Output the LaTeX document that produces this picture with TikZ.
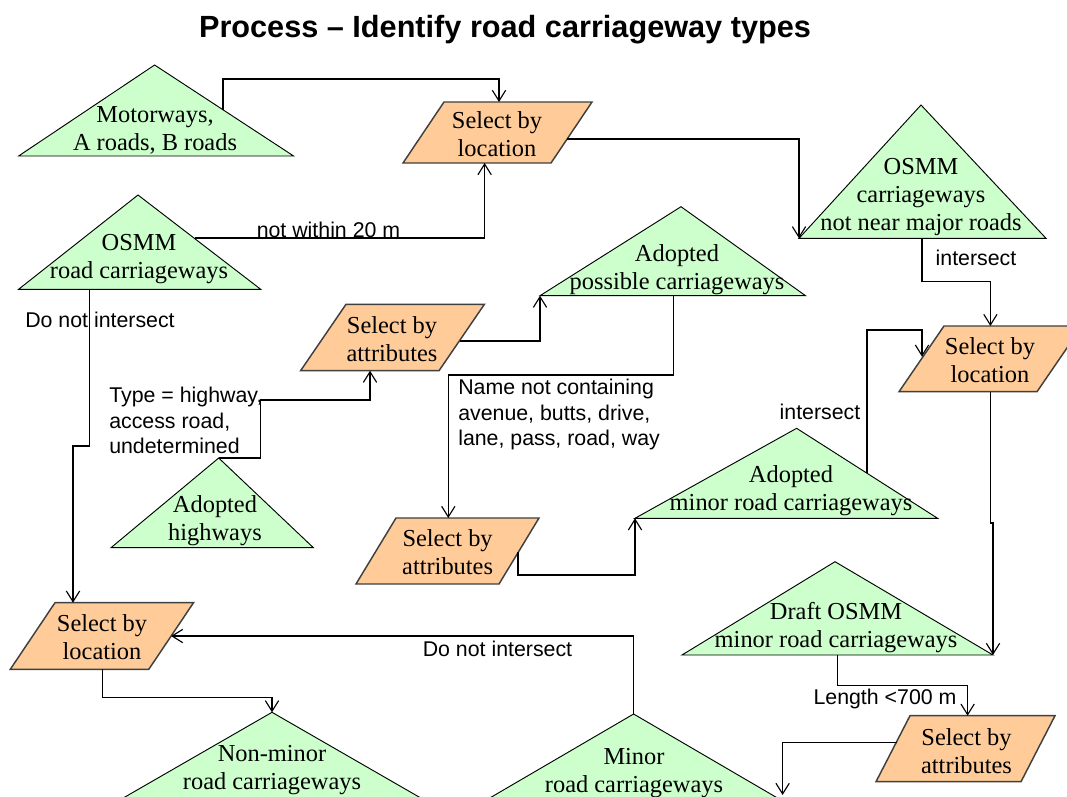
\documentclass[tikz,border=0pt]{standalone}
\usepackage{fontspec}
\setmainfont{Liberation Serif}
\setsansfont{Liberation Sans}
\usetikzlibrary{arrows.meta}

\definecolor{datafill}{HTML}{CCFFCC}
\definecolor{opfill}{HTML}{FFCC99}
\definecolor{opline}{HTML}{404040}

% Data set drawn as a triangle: name, apex x, apex y, left x, right x, base y
\newcommand{\roadtri}[6]{%
  \coordinate (#1-a) at (#2,#3);
  \coordinate (#1-l) at (#4,#6);
  \coordinate (#1-r) at (#5,#6);
  \draw[datashape] (#1-a) -- (#1-r) -- (#1-l) -- cycle;}

% Operation drawn as a parallelogram: name, bottom-left x, bottom y, width, height, slant
\newcommand{\opbox}[6]{%
  \coordinate (#1-bl) at (#2,#3);
  \coordinate (#1-br) at ({#2+#4},#3);
  \coordinate (#1-tr) at ({#2+#4+#6},{#3-#5});
  \coordinate (#1-tl) at ({#2+#6},{#3-#5});
  \draw[opshape] (#1-bl) -- (#1-br) -- (#1-tr) -- (#1-tl) -- cycle;}

\tikzset{
  datashape/.style={fill=datafill, draw=black, line width=0.7pt},
  opshape/.style={fill=opfill, draw=opline, line width=1.1pt, line join=miter},
  boxtext/.style={font=\fontsize{18.3pt}{21pt}\selectfont, align=center, inner sep=0pt},
  flowlabel/.style={font=\sffamily\fontsize{16pt}{19pt}\selectfont, inner sep=0pt},
  flow/.style={draw=black, line width=0.95pt, -{Straight Barb[length=8pt,width=10pt,line width=0.85pt]}},
}

\begin{document}
\begin{tikzpicture}[x=0.75pt, y=-0.75pt]
\useasboundingbox (0,0) rectangle (1067,796);
\fill[white] (0,0) rectangle (1067,796);
\clip (0,0) rectangle (1067,796);

% title
\node[font=\sffamily\bfseries\fontsize{23pt}{27pt}\selectfont, inner sep=0pt] (title) at (505,30) {Process -- Identify road carriageway types};

% data sets
\roadtri{mw}{154.6}{65}{18.6}{293.6}{156}
\roadtri{or}{138}{195}{18.6}{260.7}{289.3}
\roadtri{oc}{921}{105}{799}{1046}{238.3}
\roadtri{ap}{681}{206.7}{540}{805.5}{295.7}
\roadtri{ah}{218.7}{458}{111}{313.4}{547.7}
\roadtri{am}{796.6}{428.3}{635}{937.6}{518.3}
\roadtri{dr}{835}{561.7}{682}{993}{655}
\roadtri{nm}{272}{712.3}{118}{426}{801}
\roadtri{mi}{633.6}{714}{484.6}{782.6}{801}

\node[boxtext] (mwtext) at (155,130) {Motorways,\\A roads, B roads};
\node[boxtext] (ortext) at (139,259) {OSMM\\road carriageways};
\node[boxtext] (octext) at (921,197.5) {OSMM\\carriageways\\not near major roads};
\node[boxtext] (aptext) at (677,269.5) {Adopted\\possible carriageways};
\node[boxtext] (ahtext) at (215,521) {Adopted\\highways};
\node[boxtext] (amtext) at (791,491) {Adopted\\minor road carriageways};
\node[boxtext] (drtext) at (836,627.5) {Draft OSMM\\minor road carriageways};
\node[boxtext] (nmtext) at (272,770.5) {Non-minor\\road carriageways};
\node[boxtext] (mitext) at (634,773.5) {Minor\\road carriageways};

% operations
\opbox{sl1}{403}{163}{148}{61}{41}
\opbox{sa1}{300.6}{370.7}{138.4}{66.4}{45.4}
\opbox{sa2}{356}{584}{143}{66}{40}
\opbox{sl2}{899}{391.7}{138}{65.7}{45}
\opbox{sl3}{10.3}{669.3}{138.5}{66.6}{44.7}
\opbox{sa3}{876}{781.7}{145}{66}{34}

\node[boxtext] (sl1text) at (497,134.5) {Select by\\location};
\node[boxtext] (sa1text) at (392,339.5) {Select by\\attributes};
\node[boxtext] (sa2text) at (447.6,552.5) {Select by\\attributes};
\node[boxtext] (sl2text) at (990,360.5) {Select by\\location};
\node[boxtext] (sl3text) at (102,637) {Select by\\location};
\node[boxtext] (sa3text) at (966.5,751) {Select by\\attributes};

% connector end points on the shapes
\coordinate (mw-out) at (223,110);
\coordinate (sl1-in) at (499,102);
\coordinate (or-out) at (195,238);
\coordinate (sl1-in2) at (484.6,163);
\coordinate (sl1-out) at (567,139);
\coordinate (oc-out) at (922,238.3);
\coordinate (sl2-in) at (990.4,326);
\coordinate (sa1-in) at (370,370.7);
\coordinate (sa1-out) at (460,341);
\coordinate (ap-out) at (673.4,295.7);
\coordinate (sa2-in) at (448.3,518);
\coordinate (sa2-out) at (518,551.7);
\coordinate (am-out) at (867,473.3);
\coordinate (sl2-in2) at (922,356.7);
\coordinate (sl2-out) at (990.8,391.7);
\coordinate (dr-out) at (837.7,655);
\coordinate (sa3-in) at (967.6,715.7);
\coordinate (sa3-out) at (897,742.3);
\coordinate (mi-in) at (782.6,795);
\coordinate (sl3-out) at (102.3,669.3);
\coordinate (sl3-in) at (171,636);
\coordinate (or-out2) at (89.5,289.3);
\coordinate (sl3-in2) at (73,602.7);

% connectors
\draw[flow] (mw-out) -- ++(0,-31) -| (sl1-in);
\draw[flow] (or-out) -| (sl1-in2);
\draw[flow] (sl1-out) -| (oc-l);
\draw[flow] (oc-out) -- ++(0,43.4) -| (sl2-in);
\draw[flow] (ah-a) -- ++(42,0) -- ++(0,-58) -| (sa1-in);
\draw[flow] (sa1-out) -| (ap-l);
\draw[flow] (ap-out) -- ++(0,79.3) -| (sa2-in);
\draw[flow] (sa2-out) -- ++(0,23.3) -| (am-l);
\draw[flow] (am-out) -- ++(0,-143.3) -| (sl2-in2);
\draw[flow] (sl2-out) -- ++(0,131.3) -| (dr-r);
\draw[flow] (dr-out) -- ++(0,30.7) -| (sa3-in);
\draw[flow] (sa3-out) -| (mi-in);
\draw[flow] (sl3-out) -- ++(0,28.4) -| (nm-a);
\draw[flow] (mi-a) |- (sl3-in);
\draw[flow] (or-out2) -- ++(0,156.7) -| (sl3-in2);

% connector labels
\node[flowlabel] (lbl1) at (328.5,230) {not within 20 m};
\node[flowlabel] (lbl2) at (976,258) {intersect};
\node[flowlabel, align=left, anchor=west] (lbl3) at (109,420.5) {Type = highway,\\access road,\\undetermined};
\node[flowlabel, align=left, anchor=west] (lbl4) at (458,414.5) {Name not containing\\avenue, butts, drive,\\lane, pass, road, way};
\node[flowlabel] (lbl5) at (100,320) {Do not intersect};
\node[flowlabel] (lbl6) at (820,412) {intersect};
\node[flowlabel] (lbl7) at (885,699) {Length <700 m};
\node[flowlabel] (lbl8) at (497.5,649) {Do not intersect};
\end{tikzpicture}
\end{document}
